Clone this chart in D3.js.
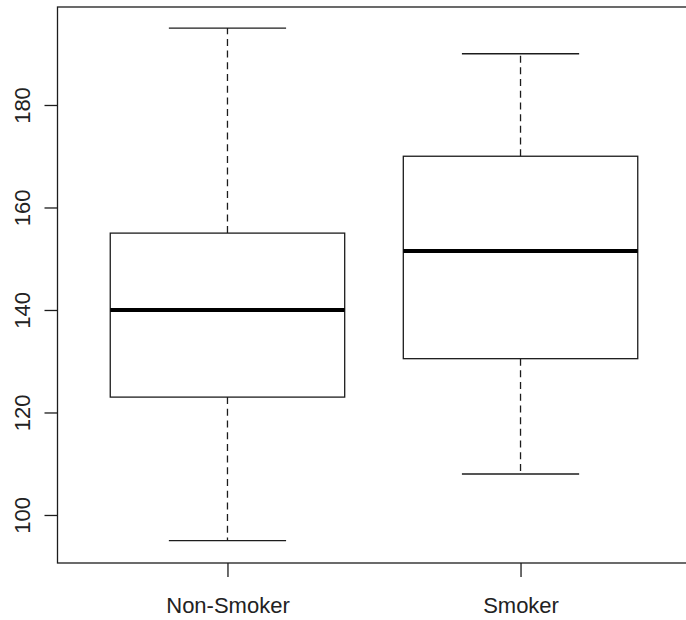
<!DOCTYPE html>
<html>
<head>
<meta charset="utf-8">
<script src="https://cdn.jsdelivr.net/npm/d3@7"></script>
<style>
  html, body { margin: 0; padding: 0; background: #fff; }
  svg { display: block; }
  text { font-family: "Liberation Sans", Arial, sans-serif; fill: #222; }
</style>
</head>
<body>
<svg id="chart" width="686" height="620"></svg>
<script>
// Five-number summaries per group (whisker low, Q1, median, Q3, whisker high)
const groups    = ["Non-Smoker", "Smoker"];
const whiskLow  = [95, 108];
const q1        = [123, 130.5];
const medians   = [140, 151.5];
const q3        = [155, 170];
const whiskHigh = [195, 190];
const yTicks    = [100, 120, 140, 160, 180];

const svg = d3.select("#chart");
const ink = "#1c1c1c";

// Plot region (right edge runs off the canvas)
const plotL = 57.5, plotR = 690.5, plotT = 7, plotB = 563;

const x = d3.scaleLinear().domain([0.42, 2.58]).range([plotL, plotR]);
const y = d3.scaleLinear().domain([90.63, 199.12]).range([plotB, plotT]);

const boxHalf = 0.4, capHalf = 0.2;

// Frame
svg.append("rect")
  .attr("x", plotL).attr("y", plotT)
  .attr("width", plotR - plotL).attr("height", plotB - plotT)
  .attr("fill", "none").attr("stroke", ink).attr("stroke-width", 1.3);

// Y axis
const yAxis = d3.axisLeft(y).tickValues(yTicks).tickSize(13).tickPadding(0).tickFormat(d3.format("d"));
const yg = svg.append("g").attr("transform", `translate(${plotL},0)`).call(yAxis);
yg.select(".domain").remove();
yg.selectAll(".tick line").attr("stroke", ink).attr("stroke-width", 1.3);
yg.selectAll(".tick text")
  .attr("x", null).attr("dy", null)
  .attr("text-anchor", "middle")
  .attr("transform", `translate(${30 - plotL},0) rotate(-90)`)
  .attr("font-size", 22)
  .style("fill", "#222");

// X axis
const xAxis = d3.axisBottom(x).tickValues(groups.map((g, i) => i + 1))
  .tickSize(14).tickPadding(0).tickFormat((d) => groups[d - 1]);
const xg = svg.append("g").attr("transform", `translate(0,${plotB})`).call(xAxis);
xg.select(".domain").remove();
xg.selectAll(".tick line").attr("stroke", ink).attr("stroke-width", 1.3);
xg.selectAll(".tick text")
  .attr("y", 50).attr("dy", null)
  .attr("font-size", 22)
  .style("fill", "#222");

// Boxes
const data = groups.map((g, i) => ({
  pos: i + 1, lo: whiskLow[i], q1: q1[i], med: medians[i], q3: q3[i], hi: whiskHigh[i]
}));

const bx = svg.append("g").selectAll("g").data(data).join("g");

// Dashed whiskers from box edge outward
bx.append("line")
  .attr("x1", (d) => x(d.pos)).attr("x2", (d) => x(d.pos))
  .attr("y1", (d) => y(d.q3)).attr("y2", (d) => y(d.hi))
  .attr("stroke", ink).attr("stroke-width", 1.3).attr("stroke-dasharray", "7,4.7");
bx.append("line")
  .attr("x1", (d) => x(d.pos)).attr("x2", (d) => x(d.pos))
  .attr("y1", (d) => y(d.q1)).attr("y2", (d) => y(d.lo))
  .attr("stroke", ink).attr("stroke-width", 1.3).attr("stroke-dasharray", "7,4.7");

// Whisker caps
["lo", "hi"].forEach((k) => {
  bx.append("line")
    .attr("x1", (d) => x(d.pos - capHalf)).attr("x2", (d) => x(d.pos + capHalf))
    .attr("y1", (d) => y(d[k])).attr("y2", (d) => y(d[k]))
    .attr("stroke", ink).attr("stroke-width", 1.3);
});

// Box
bx.append("rect")
  .attr("x", (d) => x(d.pos - boxHalf))
  .attr("width", (d) => x(d.pos + boxHalf) - x(d.pos - boxHalf))
  .attr("y", (d) => y(d.q3))
  .attr("height", (d) => y(d.q1) - y(d.q3))
  .attr("fill", "#fff").attr("stroke", ink).attr("stroke-width", 1.3);

// Median
bx.append("line")
  .attr("x1", (d) => x(d.pos - boxHalf)).attr("x2", (d) => x(d.pos + boxHalf))
  .attr("y1", (d) => y(d.med)).attr("y2", (d) => y(d.med))
  .attr("stroke", "#000").attr("stroke-width", 4);
</script>
</body>
</html>
